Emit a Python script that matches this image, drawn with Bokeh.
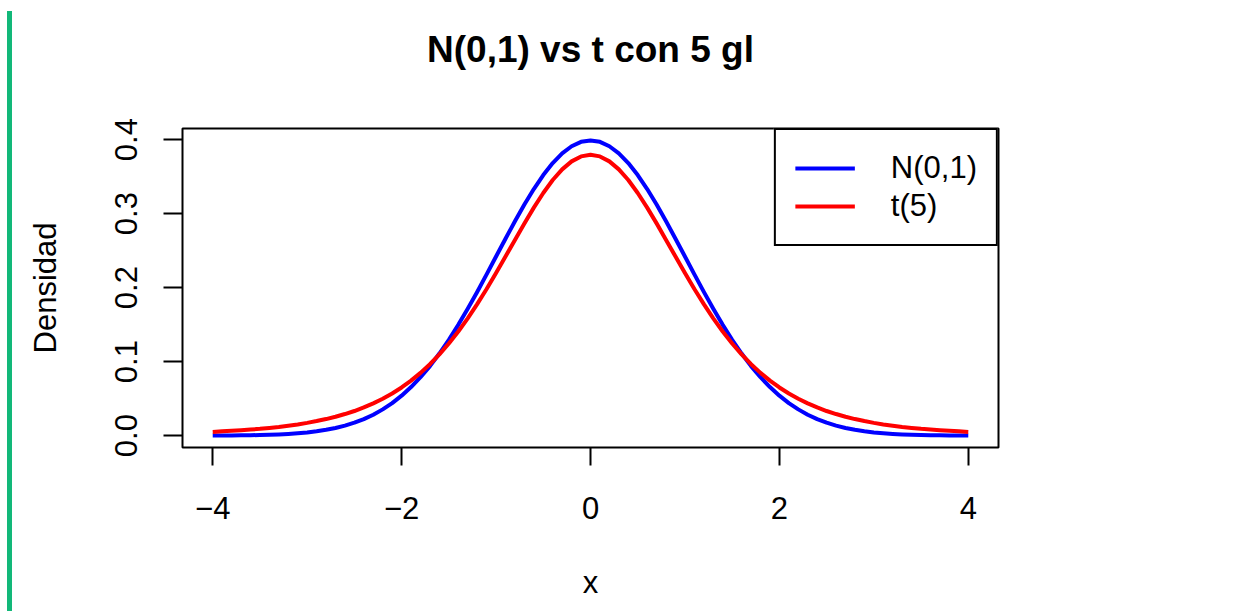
from bokeh.plotting import figure
from bokeh.models import Range1d, Legend, LegendItem, FixedTicker, InlineStyleSheet, Title
from bokeh.embed import file_html
from bokeh.resources import INLINE

# ---- data ----
x_vals = [-4.0, -3.9, -3.8, -3.7, -3.6, -3.5, -3.4, -3.3, -3.2, -3.1,
          -3.0, -2.9, -2.8, -2.7, -2.6, -2.5, -2.4, -2.3, -2.2, -2.1,
          -2.0, -1.9, -1.8, -1.7, -1.6, -1.5, -1.4, -1.3, -1.2, -1.1,
          -1.0, -0.9, -0.8, -0.7, -0.6, -0.5, -0.4, -0.3, -0.2, -0.1,
          0.0,
          0.1, 0.2, 0.3, 0.4, 0.5, 0.6, 0.7, 0.8, 0.9, 1.0,
          1.1, 1.2, 1.3, 1.4, 1.5, 1.6, 1.7, 1.8, 1.9, 2.0,
          2.1, 2.2, 2.3, 2.4, 2.5, 2.6, 2.7, 2.8, 2.9, 3.0,
          3.1, 3.2, 3.3, 3.4, 3.5, 3.6, 3.7, 3.8, 3.9, 4.0]
norm_dens = [0.0001, 0.0002, 0.0003, 0.0004, 0.0006, 0.0009, 0.0012, 0.0017, 0.0024, 0.0033,
             0.0044, 0.0060, 0.0079, 0.0104, 0.0136, 0.0175, 0.0224, 0.0283, 0.0355, 0.0440,
             0.0540, 0.0656, 0.0790, 0.0940, 0.1109, 0.1295, 0.1497, 0.1714, 0.1942, 0.2179,
             0.2420, 0.2661, 0.2897, 0.3123, 0.3332, 0.3521, 0.3683, 0.3814, 0.3910, 0.3970,
             0.3989,
             0.3970, 0.3910, 0.3814, 0.3683, 0.3521, 0.3332, 0.3123, 0.2897, 0.2661, 0.2420,
             0.2179, 0.1942, 0.1714, 0.1497, 0.1295, 0.1109, 0.0940, 0.0790, 0.0656, 0.0540,
             0.0440, 0.0355, 0.0283, 0.0224, 0.0175, 0.0136, 0.0104, 0.0079, 0.0060, 0.0044,
             0.0033, 0.0024, 0.0017, 0.0012, 0.0009, 0.0006, 0.0004, 0.0003, 0.0002, 0.0001]
t5_dens = [0.0051, 0.0058, 0.0065, 0.0073, 0.0082, 0.0092, 0.0105, 0.0118, 0.0134, 0.0152,
           0.0173, 0.0197, 0.0224, 0.0256, 0.0292, 0.0333, 0.0381, 0.0436, 0.0498, 0.0570,
           0.0651, 0.0743, 0.0848, 0.0966, 0.1098, 0.1245, 0.1407, 0.1585, 0.1777, 0.1981,
           0.2197, 0.2420, 0.2645, 0.2868, 0.3081, 0.3279, 0.3454, 0.3598, 0.3706, 0.3773,
           0.3796,
           0.3773, 0.3706, 0.3598, 0.3454, 0.3279, 0.3081, 0.2868, 0.2645, 0.2420, 0.2197,
           0.1981, 0.1777, 0.1585, 0.1407, 0.1245, 0.1098, 0.0966, 0.0848, 0.0743, 0.0651,
           0.0570, 0.0498, 0.0436, 0.0381, 0.0333, 0.0292, 0.0256, 0.0224, 0.0197, 0.0173,
           0.0152, 0.0134, 0.0118, 0.0105, 0.0092, 0.0082, 0.0073, 0.0065, 0.0058, 0.0051]
series_labels = ["N(0,1)", "t(5)"]
x_ticks = [-4, -2, 0, 2, 4]
x_tick_labels = ["\u22124", "\u22122", "0", "2", "4"]
y_ticks = [0.0, 0.1, 0.2, 0.3, 0.4]
y_tick_labels = ["0.0", "0.1", "0.2", "0.3", "0.4"]
title_text = "N(0,1) vs t con 5 gl"
x_label = "x"
y_label = "Densidad"

FONT = "Liberation Sans"

p = figure(width=1244, height=611,
           x_range=Range1d(-4.32, 4.32), y_range=Range1d(-0.016, 0.415),
           output_backend="svg", toolbar_location=None,
           min_border_left=182, min_border_right=246,
           min_border_top=128, min_border_bottom=164)

p.background_fill_color = "white"
p.border_fill_color = "white"
p.outline_line_color = "black"
p.outline_line_alpha = 1
p.outline_line_width = 2
p.grid.visible = False

# main title (outermost in the top panel)
p.title.text = title_text
p.title.text_font = FONT
p.title.text_font_size = "37px"
p.title.text_font_style = "bold"
p.title.text_color = "black"
p.title.align = "center"
p.title.standoff = 48

# blank spacer between the title and the frame
spacer = Title(text=" ", text_font_size="1px", standoff=32)
p.add_layout(spacer, "above")

# axes
for ax in (p.xaxis[0], p.yaxis[0]):
    ax.axis_line_color = None
    ax.major_tick_line_color = "black"
    ax.major_tick_line_width = 2
    ax.major_tick_in = 0
    ax.minor_tick_line_color = None
    ax.major_label_text_font = FONT
    ax.major_label_text_font_size = "31px"
    ax.major_label_text_color = "black"
    ax.axis_label_text_font = FONT
    ax.axis_label_text_font_size = "31px"
    ax.axis_label_text_font_style = "normal"
    ax.axis_label_text_color = "black"

p.xaxis[0].ticker = FixedTicker(ticks=x_ticks)
p.xaxis[0].major_label_overrides = {t: l for t, l in zip(x_ticks, x_tick_labels)}
p.xaxis[0].major_tick_out = 18
p.xaxis[0].major_label_standoff = 31
p.xaxis[0].axis_label = x_label
p.xaxis[0].axis_label_standoff = 43

p.yaxis[0].ticker = FixedTicker(ticks=y_ticks)
p.yaxis[0].major_label_overrides = {t: l for t, l in zip(y_ticks, y_tick_labels)}
p.yaxis[0].major_tick_out = 19
p.yaxis[0].major_label_standoff = 26
p.yaxis[0].major_label_orientation = "vertical"
p.yaxis[0].axis_label = y_label
p.yaxis[0].axis_label_standoff = 50

# curves
r1 = p.line(x_vals, norm_dens, line_color="#0000ff", line_width=4, line_join="round")
r2 = p.line(x_vals, t5_dens, line_color="#ff0000", line_width=4, line_join="round")

legend = Legend(items=[LegendItem(label=series_labels[0], renderers=[r1]),
                       LegendItem(label=series_labels[1], renderers=[r2])],
                location="top_right", margin=0, padding=19, spacing=0,
                glyph_width=60, glyph_height=38, label_height=38, label_standoff=36,
                border_line_color="black", border_line_alpha=1, border_line_width=2,
                background_fill_color="white", background_fill_alpha=1,
                label_text_font=FONT, label_text_font_size="31px",
                label_text_color="black")
p.add_layout(legend)

# green page bar on the left edge of the page
p.stylesheets = [InlineStyleSheet(css=(
    ":host::before { content: ''; position: absolute; left: 7px; top: 11px; "
    "width: 5px; height: 600px; background-color: #12b879; z-index: 10; }"))]

open("out.html", "w").write(file_html(p, INLINE))
